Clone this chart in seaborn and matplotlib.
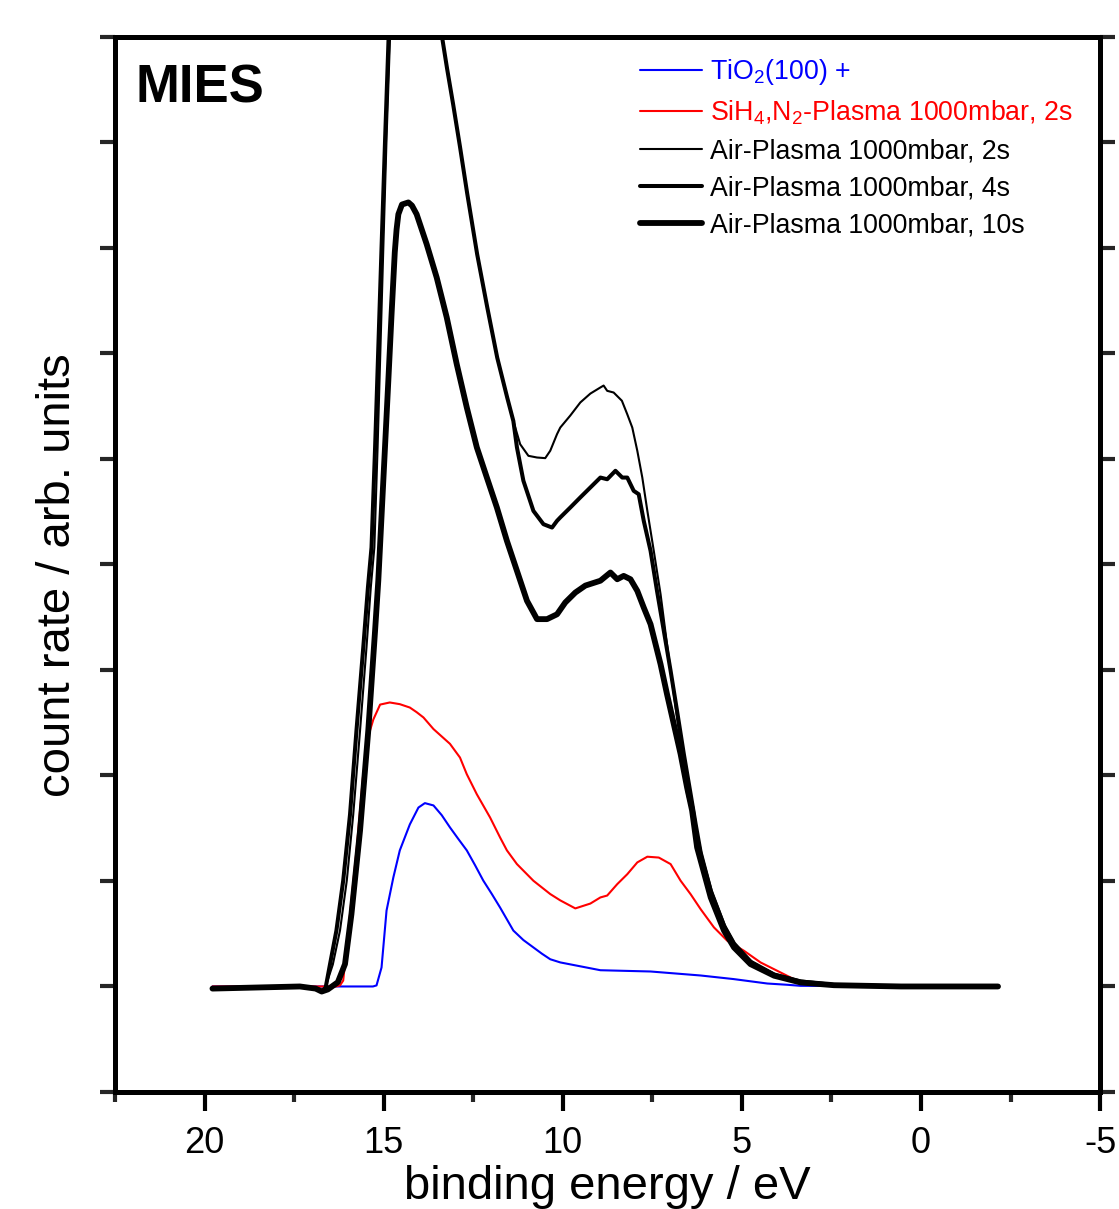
import numpy as np
import pandas as pd
import matplotlib
matplotlib.use("Agg")
import matplotlib.pyplot as plt
import seaborn as sns
from matplotlib.ticker import MultipleLocator, NullFormatter

# ---------------- data (binding energy / eV, count rate / arb. units) ----------------
tio2_E = [19.78, 15.30, 15.20, 15.06, 14.92, 14.73, 14.55, 14.27, 14.03, 13.85, 13.61, 13.38,
          13.15, 12.92, 12.68, 12.45, 12.22, 11.98, 11.75, 11.56, 11.38, 11.10, 10.82, 10.58,
          10.35, 10.07, 8.95, 7.55, 6.15, 5.23, 4.29, 3.73, 3.36, -2.15]
tio2_y = [0.0, 0.0, 0.005, 0.09, 0.36, 0.517, 0.645, 0.768, 0.848, 0.869, 0.858, 0.812,
          0.754, 0.700, 0.645, 0.575, 0.502, 0.438, 0.374, 0.318, 0.265, 0.220, 0.185, 0.155,
          0.129, 0.114, 0.077, 0.071, 0.052, 0.035, 0.014, 0.008, 0.003, 0.0]

sih4_E = [19.78, 16.34, 16.22, 16.13, 15.94, 15.75, 15.58, 15.44, 15.29, 15.10, 14.83, 14.55,
          14.27, 14.08, 13.89, 13.61, 13.15, 12.87, 12.68, 12.40, 12.03, 11.75, 11.56, 11.28,
          10.82, 10.35, 10.07, 9.65, 9.23, 8.95, 8.76, 8.48, 8.20, 7.92, 7.64, 7.32, 6.99,
          6.71, 6.43, 6.15, 5.78, 5.41, 4.94, 4.48, 4.01, 3.54, 3.26, 2.52, -2.15]
sih4_y = [0.0, 0.0, 0.005, 0.028, 0.343, 0.66, 0.99, 1.18, 1.265, 1.336, 1.346, 1.338,
          1.322, 1.30, 1.275, 1.22, 1.15, 1.085, 1.006, 0.911, 0.801, 0.706, 0.645, 0.580,
          0.501, 0.438, 0.408, 0.370, 0.393, 0.422, 0.431, 0.485, 0.532, 0.588, 0.615, 0.611,
          0.580, 0.501, 0.437, 0.366, 0.280, 0.217, 0.169, 0.114, 0.074, 0.034, 0.019, 0.005, 0.0]

air2_E = [19.78, 17.34, 16.82, 16.66, 16.42, 16.22, 16.03, 15.85, 15.66, 15.48, 15.36, 15.26,
          15.17, 15.09, 15.01, 14.92, 14.82, 14.69, 14.41, 14.04, 13.71, 13.38, 13.23, 13.06,
          12.87, 12.67, 12.39, 12.11, 11.83, 11.55, 11.38, 11.19, 10.96, 10.72, 10.49, 10.35,
          10.16, 10.07, 9.79, 9.51, 9.23, 8.95, 8.86, 8.76, 8.58, 8.35, 8.20, 8.06, 7.92,
          7.78, 7.64, 7.46, 7.27, 7.09, 6.90, 6.71, 6.53, 6.29, 6.10, 5.82, 5.45, 5.17, 4.70,
          4.06, 3.36, 2.43, 0.56, -2.15]
air2_y = [-0.01, 0.0, -0.01, -0.02, 0.104, 0.265, 0.502, 0.815, 1.213, 1.607, 1.891, 2.081,
          2.555, 3.028, 3.502, 4.02, 4.512, 4.83, 5.00, 4.95, 4.73, 4.51, 4.35, 4.18,
          3.98, 3.76, 3.47, 3.22, 2.98, 2.79, 2.68, 2.570, 2.515, 2.507, 2.504, 2.539,
          2.618, 2.649, 2.706, 2.768, 2.810, 2.839, 2.848, 2.823, 2.815, 2.776, 2.712, 2.649,
          2.539, 2.412, 2.255, 2.065, 1.859, 1.622, 1.385, 1.148, 0.911, 0.754, 0.611, 0.441,
          0.280, 0.194, 0.114, 0.055, 0.024, 0.007, 0.0, 0.0]

air4_E = [19.78, 17.34, 16.90, 16.73, 16.62, 16.50, 16.32, 16.13, 15.94, 15.76, 15.57, 15.44,
          15.34, 15.24, 15.15, 15.06, 14.96, 14.86, 14.69, 14.41, 14.04, 13.71, 13.38, 13.23,
          13.06, 12.87, 12.67, 12.39, 12.11, 11.83, 11.55, 11.38, 11.28, 11.10, 10.82, 10.54,
          10.30, 10.16, 10.07, 9.79, 9.51, 9.23, 8.95, 8.76, 8.53, 8.34, 8.20, 8.02, 7.88,
          7.74, 7.55, 7.37, 7.18, 6.99, 6.81, 6.62, 6.43, 6.29, 6.15, 5.87, 5.50, 5.22, 4.76,
          4.10, 3.36, 2.43, 0.56, -2.15]
air4_y = [-0.01, 0.0, -0.01, -0.024, -0.005, 0.104, 0.265, 0.502, 0.815, 1.213, 1.607, 1.891,
          2.081, 2.555, 3.028, 3.502, 4.02, 4.512, 4.83, 5.00, 4.95, 4.73, 4.51, 4.35,
          4.18, 3.98, 3.76, 3.47, 3.22, 2.98, 2.79, 2.68, 2.555, 2.397, 2.254, 2.191,
          2.175, 2.207, 2.223, 2.270, 2.318, 2.365, 2.412, 2.404, 2.444, 2.412, 2.412, 2.349,
          2.333, 2.207, 2.065, 1.875, 1.686, 1.496, 1.306, 1.101, 0.911, 0.769, 0.635, 0.455,
          0.289, 0.204, 0.118, 0.057, 0.024, 0.007, 0.0, 0.0]

air10_E = [19.78, 17.34, 16.90, 16.73, 16.56, 16.28, 16.08, 15.90, 15.66, 15.43, 15.24, 15.15,
           15.01, 14.87, 14.78, 14.69, 14.64, 14.59, 14.49, 14.31, 14.21, 14.08, 13.80, 13.52,
           13.24, 12.96, 12.68, 12.40, 12.12, 11.84, 11.56, 11.28, 11.00, 10.72, 10.44, 10.16,
           9.93, 9.65, 9.37, 8.95, 8.67, 8.48, 8.30, 8.11, 7.92, 7.74, 7.55, 7.41, 7.27, 7.09,
           6.90, 6.71, 6.53, 6.39, 6.25, 5.87, 5.50, 5.22, 4.76, 4.10, 3.36, 2.43, 0.56, -2.15]
air10_y = [-0.01, 0.0, -0.01, -0.024, -0.014, 0.02, 0.106, 0.343, 0.739, 1.213, 1.687, 1.924,
           2.398, 2.872, 3.186, 3.480, 3.588, 3.660, 3.706, 3.716, 3.701, 3.660, 3.518, 3.360,
           3.171, 2.949, 2.744, 2.555, 2.412, 2.270, 2.112, 1.970, 1.828, 1.741, 1.741, 1.764,
           1.820, 1.867, 1.900, 1.923, 1.962, 1.930, 1.946, 1.930, 1.875, 1.796, 1.717, 1.622,
           1.527, 1.385, 1.243, 1.101, 0.943, 0.834, 0.659, 0.422, 0.265, 0.185, 0.106, 0.051,
           0.019, 0.006, 0.0, 0.0]

labels = [r"TiO$_2$(100) +",
          r"SiH$_4$,N$_2$-Plasma 1000mbar, 2s",
          "Air-Plasma 1000mbar, 2s",
          "Air-Plasma 1000mbar, 4s",
          "Air-Plasma 1000mbar, 10s"]

x_ticks = [20, 15, 10, 5, 0, -5]

# ---------------- style ----------------
sns.set_theme(style="ticks")
plt.rcParams["font.family"] = ["Liberation Sans", "DejaVu Sans"]
plt.rcParams["mathtext.default"] = "regular"

fig = plt.figure(figsize=(11.19, 12.09), dpi=100)
ax = fig.add_axes([0.1028, 0.0968, 0.8803, 0.8726])

series = [
    (tio2_E, tio2_y, "#0000ff", 1.5),
    (sih4_E, sih4_y, "#ff0000", 1.5),
    (air2_E, air2_y, "black", 1.5),
    (air4_E, air4_y, "black", 2.9),
    (air10_E, air10_y, "black", 4.2),
]
for (E, y, c, lw), lab in zip(series, labels):
    df = pd.DataFrame({"E": E, "y": y})
    sns.lineplot(data=df, x="E", y="y", ax=ax, color=c, linewidth=lw,
                 sort=False, estimator=None, label=lab, legend=False)

ax.set_xlim(22.5, -5)
ax.set_ylim(-0.5, 4.5)
ax.set_xticks(x_ticks)
ax.set_xticklabels([str(t) for t in x_ticks])
ax.xaxis.set_minor_locator(MultipleLocator(2.5))
ax.yaxis.set_major_locator(MultipleLocator(1))
ax.yaxis.set_minor_locator(MultipleLocator(0.5))
ax.yaxis.set_major_formatter(NullFormatter())

for s in ax.spines.values():
    s.set_linewidth(3.6)
    s.set_color("black")
    s.set_visible(True)

ax.tick_params(axis="x", which="major", direction="out", length=13.5, width=3,
               labelsize=26, pad=11, colors="black", top=False)
ax.tick_params(axis="x", which="minor", direction="out", length=7, width=3, top=False)
ax.tick_params(axis="y", which="both", direction="out", length=11, width=3,
               left=True, right=True, labelleft=False, labelright=False)

ax.set_xlabel("binding energy / eV", fontsize=34, labelpad=3, color="black")
ax.set_ylabel("count rate / arb. units", fontsize=34, color="black")
ax.yaxis.set_label_coords(-0.036, 0.49)

ax.text(0.0203, 0.938, "MIES", transform=ax.transAxes, fontsize=38,
        fontweight="bold", va="baseline", ha="left", color="black")

leg = ax.legend(loc="upper left", bbox_to_anchor=(0.533, 0.981), frameon=False,
                fontsize=19.3, handlelength=2.3, handletextpad=0.3, labelspacing=0.42,
                borderpad=0, borderaxespad=0)
for txt, (_, _, c, _) in zip(leg.get_texts(), series):
    txt.set_color(c)

fig.savefig("out.png", dpi=100)
